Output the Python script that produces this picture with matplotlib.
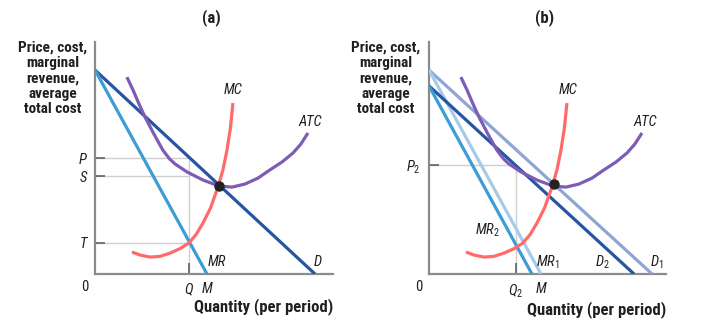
import matplotlib
matplotlib.use("Agg")
import matplotlib.pyplot as plt
from matplotlib import font_manager

names = sorted({f.name for f in font_manager.fontManager.ttflist})
FAM = "DejaVu Sans"
for cand in ["Roboto Condensed", "DejaVu Sans Condensed", "Liberation Sans Narrow", "Open Sans Condensed"]:
    if cand in names:
        FAM = cand
        break

plt.rcParams["font.family"] = [FAM, "DejaVu Sans"]
plt.rcParams["mathtext.fontset"] = "custom"
plt.rcParams["mathtext.it"] = FAM + ":italic"
plt.rcParams["mathtext.rm"] = FAM

# ---------------- data (economic units) ----------------
# shared cost curves
mc_q = [1.68, 2.05, 2.5, 2.95, 3.41, 3.86, 4.27, 4.6, 4.91, 5.25, 5.59, 5.82, 6.0, 6.15, 6.27]
mc_v = [1.0, 0.86, 0.77, 0.8, 0.95, 1.15, 1.41, 1.8, 2.32, 3.0, 3.95, 4.75, 5.64, 6.6, 7.77]
atc_q = [1.45, 1.73, 2.0, 2.27, 2.68, 3.09, 3.4, 3.64, 4.18, 4.91, 5.64, 6.23, 6.82, 7.41, 7.95, 8.5, 9.0, 9.36, 9.68]
atc_v = [8.95, 8.36, 7.73, 7.14, 6.36, 5.62, 5.22, 5.0, 4.64, 4.27, 4.0, 3.95, 4.09, 4.36, 4.73, 5.09, 5.5, 5.91, 6.41]

# panel (a)
dem_a = [9.27, 10.0]      # price intercept, quantity intercept
mr_a = [9.27, 5.09]
q_a, p_a, s_a, t_a = 4.27, 5.27, 4.45, 1.41
eq_a = [5.64, 4.0]

# panel (b)
d1_b = [9.27, 10.14]
d2_b = [8.55, 9.32]
mr1_b = [9.27, 5.09]
mr2_b = [8.55, 4.68]
q_b, p_b = 3.95, 4.95
eq_b = [5.68, 4.09]

C_D = "#2755a3"
C_MR = "#3d9bd6"
C_D1 = "#8fa5d4"
C_MR1 = "#a6cbe8"
C_MC = "#ff6b6b"
C_ATC = "#7e5cb5"
C_AX = "#8c8c8c"
C_GUIDE = "#cfcfcf"
C_TXT = "#231f20"

W, H = 705, 334
fig = plt.figure(figsize=(W / 100, H / 100), dpi=100)
PX = 22.0
LW = 2.3


def make_ax(ox, oy, wpx, hpx):
    ax = fig.add_axes([ox / W, (H - oy) / H, wpx / W, hpx / H])
    ax.set_xlim(0, wpx / PX)
    ax.set_ylim(0, hpx / PX)
    for s in ["top", "right"]:
        ax.spines[s].set_visible(False)
    for s in ["left", "bottom"]:
        ax.spines[s].set_color(C_AX)
        ax.spines[s].set_linewidth(1.6)
    ax.patch.set_alpha(0)
    return ax


def line(ax, spec, color):
    y0, x0 = spec
    ax.plot([0, x0], [y0, 0], color=color, lw=LW, solid_capstyle="butt", zorder=3)


def lab(ax, x, y, s, **kw):
    ax.text(x, y, s, fontsize=10.5, style="italic", color=C_TXT, ha="center", va="center", **kw)


def ylabel(x):
    fig.text(x / W, 1 - 41 / H, "Price, cost,\nmarginal\nrevenue,\naverage\ntotal cost",
             ha="center", va="top", fontsize=11, fontweight="bold", color=C_TXT,
             linespacing=1.12)


def common(ax, qpos, qlab, mpos, yt, ytl):
    ax.set_yticks(yt, ytl, fontsize=10.5, style="italic", color=C_TXT)
    ax.tick_params(axis="y", direction="in", length=7, width=1.1, color="#555555", pad=6)
    ax.set_xticks([qpos], [qlab], fontsize=10.5, style="italic", color=C_TXT)
    ax.set_xticks([mpos], ["M"], minor=True, fontsize=10.5, style="italic", color=C_TXT)
    ax.tick_params(axis="x", which="major", direction="in", length=8, width=1.1, color="#555555", pad=6)
    ax.tick_params(axis="x", which="minor", length=0, pad=6)
    ax.text(-10 / PX, -13 / PX, "0", fontsize=10.5, color=C_TXT, ha="center", va="center")
    ax.set_xlabel("Quantity (per period)", fontsize=12, fontweight="bold", color=C_TXT,
                  loc="right", labelpad=1)
    ax.plot(mc_q, mc_v, color=C_MC, lw=LW, zorder=4, solid_joinstyle="round", solid_capstyle="butt")
    ax.plot(atc_q, atc_v, color=C_ATC, lw=LW, zorder=4, solid_joinstyle="round", solid_capstyle="butt")


# ---------------- panel (a) ----------------
axa = make_ax(95, 274, 238, 232)
for yv in [p_a, s_a, t_a]:
    axa.plot([0, q_a], [yv, yv], color=C_GUIDE, lw=1.0, zorder=1)
axa.plot([q_a, q_a], [0, p_a], color=C_GUIDE, lw=1.0, zorder=1)
line(axa, dem_a, C_D)
line(axa, mr_a, C_MR)
common(axa, q_a, "Q", mr_a[1], [p_a, s_a, t_a], ["P", "S", "T"])
axa.plot([eq_a[0]], [eq_a[1]], "o", color="#222222", ms=6.5, zorder=6)
lab(axa, 6.27, 8.36, "MC")
lab(axa, 9.77, 6.91, "ATC")
lab(axa, 5.55, 0.55, "MR")
lab(axa, 10.14, 0.55, "D")
fig.text(211 / W, 1 - 18 / H, "(a)", ha="center", va="center", fontsize=12,
         fontweight="bold", color=C_TXT)
ylabel(53)

# ---------------- panel (b) ----------------
axb = make_ax(429, 274, 237, 232)
axb.plot([0, q_b], [p_b, p_b], color=C_GUIDE, lw=1.0, zorder=1)
axb.plot([q_b, q_b], [0, p_b], color=C_GUIDE, lw=1.0, zorder=1)
line(axb, d1_b, C_D1)
line(axb, mr1_b, C_MR1)
line(axb, d2_b, C_D)
line(axb, mr2_b, C_MR)
common(axb, q_b, r"$Q_\mathrm{2}$", mr1_b[1], [p_b], [r"$P_\mathrm{2}$"])
axb.plot([eq_b[0]], [eq_b[1]], "o", color="#222222", ms=6.5, zorder=6)
lab(axb, 6.32, 8.36, "MC")
lab(axb, 9.82, 6.91, "ATC")
lab(axb, 2.64, 2.0, r"$MR_\mathrm{2}$")
lab(axb, 5.41, 0.55, r"$MR_\mathrm{1}$")
lab(axb, 7.9, 0.55, r"$D_\mathrm{2}$")
lab(axb, 10.36, 0.55, r"$D_\mathrm{1}$")
fig.text(545 / W, 1 - 18 / H, "(b)", ha="center", va="center", fontsize=12,
         fontweight="bold", color=C_TXT)
ylabel(386)

fig.savefig("out.png", dpi=100)
